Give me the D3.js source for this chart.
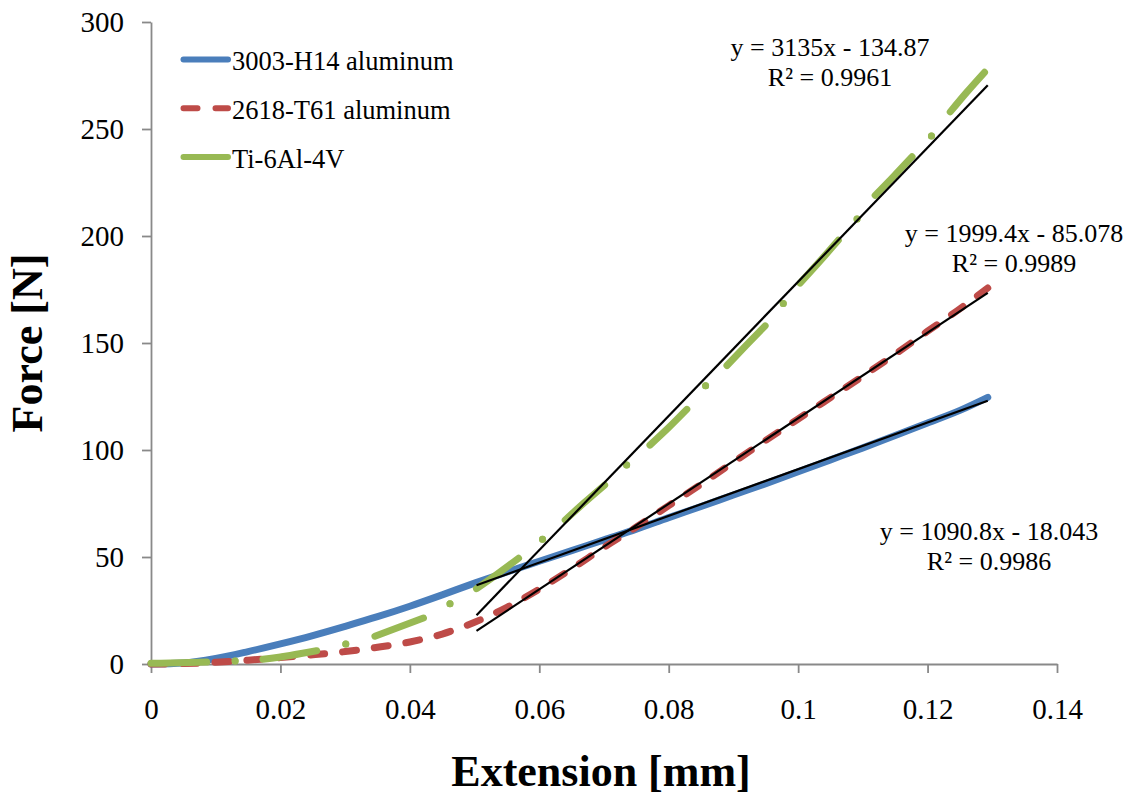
<!DOCTYPE html>
<html>
<head>
<meta charset="utf-8">
<script src="https://cdn.jsdelivr.net/npm/d3@7"></script>
<style>
  html, body { margin: 0; padding: 0; background: #ffffff; }
  svg { display: block; }
  svg text { font-family: "Liberation Serif", "Times New Roman", Times, serif !important; fill: #000; }
</style>
</head>
<body>
<div id="chart"></div>
<script>
// Tensile test: force vs. extension for three alloys, with linear fits on the elastic region.

const seriesNames = ["3003-H14 aluminum", "2618-T61 aluminum", "Ti-6Al-4V"];

// 3003-H14 aluminum (extension mm, force N)
const al3003X = [0, 0.005, 0.01, 0.015, 0.02, 0.025, 0.03, 0.035, 0.04, 0.045, 0.05, 0.055, 0.06, 0.065, 0.07, 0.075, 0.08, 0.085, 0.09, 0.095, 0.1, 0.105, 0.11, 0.115, 0.12, 0.125, 0.1293];
const al3003Y = [0, 0.5, 2.6, 5.8, 9.4, 13.3, 17.6, 22.1, 27, 32.3, 37.8, 43, 48, 53, 58, 63, 68.4, 73.6, 79, 84.3, 89.8, 95.4, 101, 106.8, 112.6, 118.5, 124.6];

// 2618-T61 aluminum
const al2618X = [0, 0.005, 0.01, 0.015, 0.02, 0.025, 0.03, 0.035, 0.04, 0.045, 0.05, 0.055, 0.06, 0.065, 0.07, 0.075, 0.08, 0.085, 0.09, 0.095, 0.1, 0.105, 0.11, 0.115, 0.12, 0.125, 0.1293];
const al2618Y = [0, 0.2, 0.8, 1.8, 3, 4.3, 5.8, 7.8, 10.3, 14, 19.5, 26.5, 35, 44.5, 54.5, 64, 74, 84, 94.3, 104.5, 114.5, 124.5, 134.5, 144.8, 155.5, 166, 175.7];

// Ti-6Al-4V (recording has gaps; null marks a break in the trace)
const tiX = [0, 0.003, 0.006, 0.0086, null, 0.013, null, 0.0173, 0.0215, 0.0256, null, 0.0301, null, 0.0346, 0.0385, 0.0421, null, 0.0462, null, 0.0503, 0.0535, 0.0568, null, 0.0605, null, 0.064, 0.067, 0.0701, null, 0.0735, null, 0.0771, 0.08, 0.0828, null, 0.0857, null, 0.089, 0.092, 0.0949, null, 0.0977, null, 0.1003, 0.1033, 0.1062, null, 0.1091, null, 0.1119, 0.1148, 0.1176, null, 0.1206, null, 0.1235, 0.126, 0.1288];
const tiY = [0.3, 0.5, 0.7, 0.9, null, 1.4, null, 2.2, 4.0, 6.2, null, 9.3, null, 13.0, 17.4, 21.5, null, 28.2, null, 35.2, 42.0, 49.4, null, 58.3, null, 67.3, 75.5, 83.6, null, 93, null, 102.3, 110.5, 119, null, 130, null, 139.5, 149, 158, null, 168.5, null, 178, 188, 198, null, 208, null, 219, 228, 237, null, 246.7, null, 258, 267, 276.5];

// Linear fits (y = slope * x + intercept) over the fitted range
const fitSlopes = [1090.8, 1999.4, 3135];
const fitIntercepts = [-18.043, -85.078, -134.87];
const fitR2 = ["0.9986", "0.9989", "0.9961"];
const fitEquations = ["y = 1090.8x - 18.043", "y = 1999.4x - 85.078", "y = 3135x - 134.87"];
const fitRange = [0.0503, 0.1293];

// Axes
const xTickValues = [0, 0.02, 0.04, 0.06, 0.08, 0.1, 0.12, 0.14];
const xTickLabels = ["0", "0.02", "0.04", "0.06", "0.08", "0.1", "0.12", "0.14"];
const yTickValues = [0, 50, 100, 150, 200, 250, 300];
const yTickLabels = ["0", "50", "100", "150", "200", "250", "300"];
const xTitle = "Extension [mm]";
const yTitle = "Force [N]";

// ---- drawing ----
const W = 1133, H = 801;
const serif = '"Liberation Serif", "Times New Roman", Times, serif';
const colors = ["#4A7EBB", "#BE4B48", "#98B954"];
const lineW = 7;

const svg = d3.select("#chart").append("svg")
  .attr("width", W).attr("height", H)
  .attr("viewBox", `0 0 ${W} ${H}`)
  .style("font-family", serif);
svg.append("rect").attr("width", W).attr("height", H).attr("fill", "#fff");

const x = d3.scaleLinear().domain([0, 0.14]).range([151, 1057]);
const y = d3.scaleLinear().domain([0, 300]).range([664, 22]);

// axes
const axisColor = "#898989";
const gx = svg.append("g").attr("transform", `translate(0,${y(0)})`)
  .call(d3.axisBottom(x).tickValues(xTickValues)
    .tickFormat((d, i) => xTickLabels[i]).tickSize(9).tickSizeOuter(0).tickPadding(25));
const gy = svg.append("g").attr("transform", `translate(${x(0)},0)`)
  .call(d3.axisLeft(y).tickValues(yTickValues)
    .tickFormat((d, i) => yTickLabels[i]).tickSize(9).tickSizeOuter(0).tickPadding(18));
[gx, gy].forEach(g => {
  g.attr("font-family", serif);
  g.select(".domain").attr("stroke", axisColor).attr("stroke-width", 1.8);
  g.selectAll(".tick line").attr("stroke", axisColor).attr("stroke-width", 1.8);
  g.selectAll(".tick text").style("font-family", serif).attr("font-size", 29).attr("fill", "#000");
});
gy.selectAll(".tick text").attr("dy", "0.34em");

// axis titles
svg.append("text")
  .attr("x", 601).attr("y", 786)
  .attr("text-anchor", "middle")
  .style("font-family", serif)
  .attr("font-size", 44).attr("font-weight", "bold")
  .text(xTitle);
svg.append("text")
  .attr("transform", `translate(42,${(y(0) + y(300)) / 2}) rotate(-90)`)
  .attr("text-anchor", "middle")
  .style("font-family", serif)
  .attr("font-size", 44).attr("font-weight", "bold")
  .text(yTitle);

// series
const pts = (xs, ys) => xs.map((v, i) => ({ x: v, y: ys[i] }));
const series = [pts(al3003X, al3003Y), pts(al2618X, al2618Y), pts(tiX, tiY)];
const dashes = [null, "14,18", null];

const line = d3.line()
  .defined(d => d.x !== null && d.y !== null)
  .x(d => x(d.x)).y(d => y(d.y))
  .curve(d3.curveMonotoneX);

const plot = svg.append("g");
series.forEach((data, s) => {
  plot.append("path")
    .datum(data)
    .attr("d", line)
    .attr("fill", "none")
    .attr("stroke", colors[s])
    .attr("stroke-width", lineW)
    .attr("stroke-linecap", "round")
    .attr("stroke-linejoin", "round")
    .attr("stroke-dasharray", dashes[s]);
  // isolated readings appear as single dots
  const lone = data.filter((d, i) => d.x !== null &&
    (i === 0 || data[i - 1].x === null) && (i === data.length - 1 || data[i + 1].x === null));
  plot.selectAll(null).data(lone).enter().append("circle")
    .attr("cx", d => x(d.x)).attr("cy", d => y(d.y))
    .attr("r", lineW / 2).attr("fill", colors[s]);
});

// linear fits
fitSlopes.forEach((m, i) => {
  const b = fitIntercepts[i];
  plot.append("line")
    .attr("x1", x(fitRange[0])).attr("y1", y(m * fitRange[0] + b))
    .attr("x2", x(fitRange[1])).attr("y2", y(m * fitRange[1] + b))
    .attr("stroke", "#000").attr("stroke-width", 2.2);
});

// fit labels
const fitLabelPos = [[989, 540], [1014, 241.5], [830, 56]];
fitEquations.forEach((eq, i) => {
  const t = svg.append("text")
    .attr("x", fitLabelPos[i][0]).attr("y", fitLabelPos[i][1])
    .attr("text-anchor", "middle")
    .style("font-family", serif)
    .attr("font-size", 26);
  t.append("tspan").text(eq);
  t.append("tspan").attr("x", fitLabelPos[i][0]).attr("dy", 30).text("R² = " + fitR2[i]);
});

// legend
const legend = svg.append("g");
seriesNames.forEach((name, i) => {
  const ly = 59.5 + i * 48.8;
  legend.append("line")
    .attr("x1", 183.5).attr("x2", 228).attr("y1", ly).attr("y2", ly)
    .attr("stroke", colors[i]).attr("stroke-width", 6)
    .attr("stroke-linecap", "round")
    .attr("stroke-dasharray", dashes[i]);
  legend.append("text")
    .attr("x", 232).attr("y", ly + 10.5)
    .style("font-family", serif)
    .attr("font-size", 26.5)
    .text(name);
});
</script>
</body>
</html>
